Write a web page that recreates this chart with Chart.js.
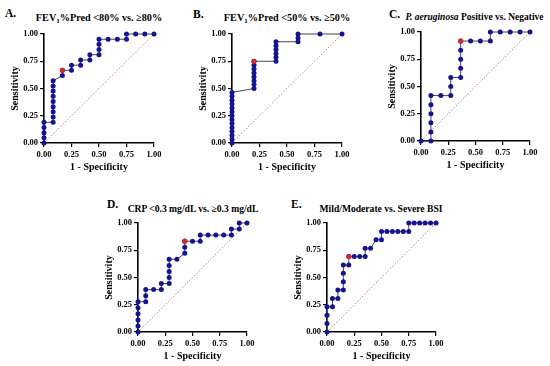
<!DOCTYPE html>
<html><head><meta charset="utf-8">
<script src="https://cdn.jsdelivr.net/npm/chart.js@4.4.0/dist/chart.umd.min.js"></script>
<style>
html,body{margin:0;padding:0;background:#fff;width:550px;height:366px;overflow:hidden;position:relative;font-family:"Liberation Serif",serif;}
canvas{position:absolute;}
.lbl{position:absolute;font-weight:bold;font-size:11.5px;transform:translate(0,-50%);white-space:nowrap;color:#000;}
.ttl{position:absolute;font-weight:bold;transform:translate(-50%,-50%);white-space:nowrap;color:#000;}
.ttl sub{font-size:70%;vertical-align:-2px;line-height:0;}
</style></head><body>
<script>
// ---------- data ----------
const tickValues = [0, 0.25, 0.5, 0.75, 1];
const diagonal = [0, 1];

const aFpr = [0,0,0,0,0, 0.083,0.083,0.083,0.083,0.083,0.083,0.083,0.083,0.083, 0.167,0.167, 0.25,0.25, 0.333,0.333, 0.417,0.417, 0.5,0.5,0.5,0.5, 0.583, 0.667, 0.75,0.75, 0.833, 0.917, 1];
const aTpr = [0,0.048,0.095,0.143,0.190, 0.190,0.238,0.286,0.333,0.381,0.429,0.476,0.524,0.571, 0.619,0.667, 0.667,0.714, 0.714,0.762, 0.762,0.810, 0.810,0.857,0.905,0.952, 0.952, 0.952, 0.952,1, 1, 1, 1];
const aCut = [0.167, 0.667];

const bFpr = [0,0,0,0,0,0,0,0,0,0,0,0,0,0, 0.2,0.2,0.2,0.2,0.2,0.2,0.2,0.2, 0.4,0.4,0.4,0.4,0.4,0.4, 0.6,0.6,0.6, 0.8, 1];
const bTpr = [0,0.036,0.071,0.107,0.143,0.179,0.214,0.25,0.286,0.321,0.357,0.393,0.429,0.464, 0.5,0.536,0.571,0.607,0.643,0.679,0.714,0.75, 0.75,0.786,0.821,0.857,0.893,0.929, 0.929,0.964,1, 1, 1];
const bCut = [0.2, 0.75];

const cFpr = [0, 0.091,0.091,0.091,0.091,0.091,0.091, 0.182, 0.273,0.273,0.273, 0.364,0.364,0.364,0.364,0.364, 0.455, 0.545, 0.636,0.636, 0.727, 0.818, 0.909, 1];
const cTpr = [0, 0,0.083,0.167,0.25,0.333,0.417, 0.417, 0.417,0.5,0.583, 0.583,0.667,0.75,0.833,0.917, 0.917, 0.917, 0.917,1, 1, 1, 1, 1];
const cCut = [0.364, 0.917];

const dFpr = [0,0,0,0,0,0, 0.071,0.071,0.071, 0.143, 0.214,0.214, 0.286,0.286,0.286,0.286,0.286, 0.357, 0.429,0.429,0.429, 0.5, 0.571,0.571, 0.643, 0.714, 0.786, 0.857,0.857, 0.929,0.929, 1];
const dTpr = [0,0.056,0.111,0.167,0.222,0.278, 0.278,0.333,0.389, 0.389, 0.389,0.444, 0.444,0.5,0.556,0.611,0.667, 0.667, 0.722,0.778,0.833, 0.833, 0.833,0.889, 0.889, 0.889, 0.889, 0.889,0.944, 0.944,1, 1];
const dCut = [0.429, 0.833];

const eFpr = [0,0,0,0, 0.05,0.05, 0.1,0.1, 0.15,0.15,0.15,0.15, 0.2,0.2, 0.25, 0.3, 0.35,0.35, 0.4, 0.45, 0.5,0.5, 0.55, 0.6, 0.65, 0.7, 0.75,0.75, 0.8, 0.85, 0.9, 0.95, 1];
const eTpr = [0,0.077,0.154,0.231, 0.231,0.308, 0.308,0.385, 0.385,0.462,0.538,0.615, 0.615,0.692, 0.692, 0.692, 0.692,0.769, 0.769, 0.846, 0.846,0.923, 0.923, 0.923, 0.923, 0.923, 0.923,1, 1, 1, 1, 1, 1];
const eCut = [0.2, 0.692];

// ---------- layout ----------
const panels = [
  {letter:'A.', title:'FEV<sub>1</sub>%Pred &lt;80% vs. ≥80%', fs:10.2, fpr:aFpr, tpr:aTpr, cut:aCut, area:[44,34,154,143], lx:5, ly:13, tx:99, ty:16.5},
  {letter:'B.', title:'FEV<sub>1</sub>%Pred &lt;50% vs. ≥50%', fs:10.2, fpr:bFpr, tpr:bTpr, cut:bCut, area:[232,34,342,143], lx:193, ly:14, tx:287, ty:17},
  {letter:'C.', title:'<i>P. aeruginosa</i> Positive vs. Negative', fs:9.5, fpr:cFpr, tpr:cTpr, cut:cCut, area:[421,32,530,141], lx:389, ly:14, tx:474.5, ty:16.5},
  {letter:'D.', title:'CRP &lt;0.3 mg/dL vs. ≥0.3 mg/dL', fs:9.6, fpr:dFpr, tpr:dTpr, cut:dCut, area:[138,223,247,332], lx:107, ly:203.5, tx:193, ty:207.5},
  {letter:'E.', title:'Mild/Moderate vs. Severe BSI', fs:9.6, fpr:eFpr, tpr:eTpr, cut:eCut, area:[327,223,436,332], lx:291, ly:203.5, tx:381, ty:207.5}
];

const FONT = '"Liberation Serif", serif';
const YW = 46, XH = 32, PT = 8, PR = 12;
const TFS = 10, TLH = 1.2;

function makePanel(p){
  const [L,T,R,B] = p.area;
  const cx = L - YW, cy = T - PT;
  const cw = R - cx + PR, ch = B - cy + XH;
  const cv = document.createElement('canvas');
  cv.width = cw; cv.height = ch;
  cv.style.left = cx + 'px'; cv.style.top = cy + 'px';
  cv.style.width = cw + 'px'; cv.style.height = ch + 'px';
  document.body.appendChild(cv);

  const lt = document.createElement('div');
  lt.className = 'lbl'; lt.style.left = p.lx + 'px'; lt.style.top = p.ly + 'px';
  lt.textContent = p.letter; document.body.appendChild(lt);
  const tt = document.createElement('div');
  tt.className = 'ttl'; tt.style.left = p.tx + 'px'; tt.style.top = p.ty + 'px';
  tt.style.fontSize = p.fs + 'px';
  tt.innerHTML = p.title; document.body.appendChild(tt);

  const half = TFS * TLH / 2;
  const yTitlePad = (YW - 28.7) - half;
  const xTitlePad = XH - 24 - half;

  const curve = p.fpr.map((x, i) => ({x, y: p.tpr[i]}));
  const axisCommon = {
    type: 'linear', min: 0, max: 1,
    afterBuildTicks: s => { s.ticks = tickValues.map(v => ({value: v})); },
    grid: { drawOnChartArea: false, drawTicks: true, tickLength: 4, color: '#000', lineWidth: 1.2 },
    border: { display: true, color: '#000', width: 1.6 }
  };
  const tickFont = {family: FONT, size: 8.5, weight: 'bold'};
  new Chart(cv, {
    type: 'scatter',
    data: { datasets: [
      { data: [{x: p.cut[0], y: p.cut[1]}], pointRadius: 2.6, pointBackgroundColor: '#d62a2a',
        pointBorderColor: '#d62a2a', pointBorderWidth: 0, showLine: false, order: 0, clip: false },
      { data: curve, showLine: true, borderColor: '#474747', borderWidth: 1, pointRadius: 2.5,
        pointBackgroundColor: '#141490', pointBorderColor: '#141490', pointBorderWidth: 0, order: 1, clip: false },
      { data: diagonal.map(v => ({x: v, y: v})), showLine: true, borderColor: '#d27070', borderWidth: 0.9,
        borderDash: [1.5, 1.8], pointRadius: 0, order: 2, clip: false }
    ]},
    options: {
      responsive: false, animation: false, devicePixelRatio: 1, events: [],
      layout: { padding: {left: 0, top: PT, right: PR, bottom: 0} },
      plugins: { legend: {display: false}, tooltip: {enabled: false}, title: {display: false} },
      scales: {
        x: Object.assign({}, axisCommon, {
          position: 'bottom',
          afterFit: s => { s.height = XH; },
          ticks: { callback: v => Number(v).toFixed(2), color: '#000', padding: 3,
                   font: tickFont, maxRotation: 0, autoSkip: false },
          title: { display: true, text: '1 - Specificity', color: '#000',
                   font: {family: FONT, size: TFS, weight: 'bold', lineHeight: TLH},
                   padding: {top: 0, bottom: xTitlePad} }
        }),
        y: Object.assign({}, axisCommon, {
          position: 'left',
          afterFit: s => { s.width = YW; },
          ticks: { callback: v => Number(v).toFixed(2), color: '#000', padding: 2,
                   font: tickFont, autoSkip: false },
          title: { display: true, text: 'Sensitivity', color: '#000',
                   font: {family: FONT, size: TFS, weight: 'bold', lineHeight: TLH},
                   padding: {top: yTitlePad, bottom: 0} }
        })
      }
    }
  });
}
panels.forEach(makePanel);
</script>
</body></html>
